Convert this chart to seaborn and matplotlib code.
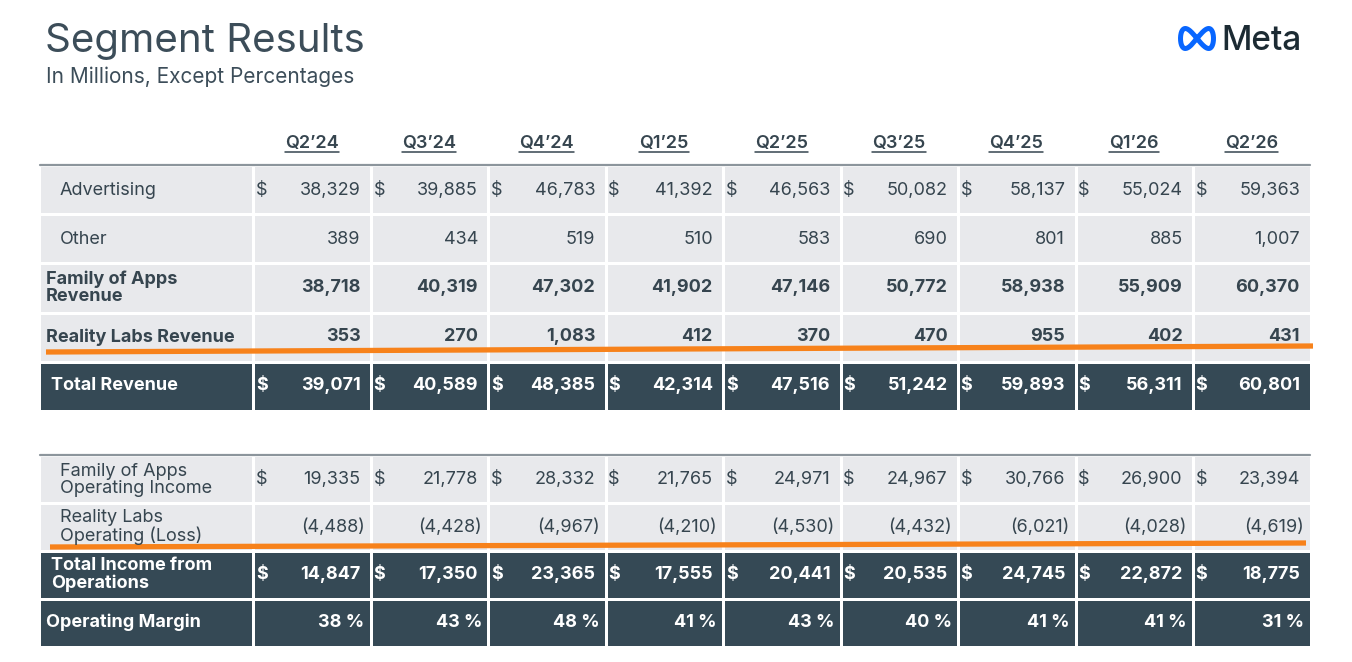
import numpy as np
import matplotlib.pyplot as plt
from matplotlib.colors import ListedColormap
import seaborn as sns

# Data (USD millions)
quarters = ["Q2’24", "Q3’24", "Q4’24", "Q1’25", "Q2’25", "Q3’25", "Q4’25", "Q1’26", "Q2’26"]
advertising = [38329, 39885, 46783, 41392, 46563, 50082, 58137, 55024, 59363]
other = [389, 434, 519, 510, 583, 690, 801, 885, 1007]
foa_revenue = [38718, 40319, 47302, 41902, 47146, 50772, 58938, 55909, 60370]
rl_revenue = [353, 270, 1083, 412, 370, 470, 955, 402, 431]
total_revenue = [39071, 40589, 48385, 42314, 47516, 51242, 59893, 56311, 60801]
foa_income = [19335, 21778, 28332, 21765, 24971, 24967, 30766, 26900, 23394]
rl_income = [-4488, -4428, -4967, -4210, -4530, -4432, -6021, -4028, -4619]
total_income = [14847, 17350, 23365, 17555, 20441, 20535, 24745, 22872, 18775]
op_margin = [38, 43, 48, 41, 43, 40, 41, 41, 31]

revenue_labels = ["Advertising", "Other", "Family of Apps\nRevenue", "Reality Labs Revenue", "Total Revenue"]
income_labels = ["Family of Apps\nOperating Income", "Reality Labs\nOperating (Loss)",
                 "Total Income from\nOperations", "Operating Margin"]

# colours
LIGHT = "#E8E9EC"
DARK = "#354955"
TEXT = "#36454F"
TITLE = "#3C4D59"
ORANGE = "#F7821B"
BORDER = "#8C959C"

sns.set_theme(style="white")
plt.rcParams["font.family"] = ["Inter", "DejaVu Sans"]

W, H = 1352, 662
fig = plt.figure(figsize=(W / 100, H / 100), dpi=100)

tab_left, lab_right, tab_right = 40, 253, 1310
col_edges = np.linspace(lab_right, tab_right, len(quarters) + 1)


def draw_cells(kinds, y0, y1):
    kinds = np.array(kinds)[:, None]
    cmap = ListedColormap([LIGHT, DARK])
    # outer edges pushed out by 1px so the white grid only shows between cells
    parts = [(tab_left - 1, lab_right, kinds),
             (lab_right, tab_right + 1, np.repeat(kinds, len(quarters), axis=1))]
    for x0, x1, grid in parts:
        axc = fig.add_axes([x0 / W, 1 - (y1 + 1) / H, (x1 - x0) / W, (y1 - y0 + 2) / H])
        sns.heatmap(grid, ax=axc, cmap=cmap, vmin=0, vmax=1, cbar=False,
                    linewidths=0.9, linecolor="white",
                    xticklabels=False, yticklabels=False)
        axc.axis("off")


# cell backgrounds (0 = light, 1 = dark)
t1_top, t1_bot = 166, 410
t2_top, t2_bot = 456, 646
draw_cells([0, 0, 0, 0, 1], t1_top, t1_bot)
draw_cells([0, 0, 1, 1], t2_top, t2_bot)

# overlay for text and lines, in pixel coordinates
ax = fig.add_axes([0, 0, 1, 1])
ax.set_xlim(0, W)
ax.set_ylim(H, 0)
ax.axis("off")
ax.set_zorder(5)

# title block
ax.text(45, 52, "Segment Results", fontsize=29, color=TITLE, fontweight="normal", va="baseline")
ax.text(46, 83, "In Millions, Except Percentages", fontsize=15, color=TITLE, va="baseline")

# Meta logo
t = np.linspace(0, 2 * np.pi, 200)
ax.plot(1197 + 16.5 * np.sin(t), 38.5 + 10 * np.sin(2 * t), color="#0866FF", lw=3.6, solid_capstyle="round")
ax.text(1221, 50, "Meta", fontsize=24, color="#1C2B33", fontweight="medium", va="baseline")

# column headers
fs = 13
header_texts = []
for i, q in enumerate(quarters):
    cx = (col_edges[i] + col_edges[i + 1]) / 2
    header_texts.append(ax.text(cx, 148, q, fontsize=fs, color=TEXT, fontweight="semibold",
                                ha="center", va="baseline"))

# top borders
ax.plot([tab_left, tab_right], [165, 165], color=BORDER, lw=1.6)
ax.plot([tab_left, tab_right], [455, 455], color=BORDER, lw=1.6)


def fmt(v, pct=False):
    if pct:
        return f"{v} %"
    if v < 0:
        return f"({-v:,})"
    return f"{v:,}"


def draw_rows(labels, series, styles, y0, y1):
    rh = (y1 - y0) / len(labels)
    for r, (lab, vals, st) in enumerate(zip(labels, series, styles)):
        lx, bold, dark, dollar, pct = st
        yc = y0 + (r + 0.5) * rh
        col = "white" if dark else TEXT
        wt = "bold" if bold else "normal"
        ax.text(lx, yc, lab, fontsize=fs, color=col, fontweight=wt, va="center",
                linespacing=1.0)
        for i, v in enumerate(vals):
            x0, x1 = col_edges[i], col_edges[i + 1]
            if dollar:
                ax.text(x0 + 3, yc, "$", fontsize=fs, color=col, fontweight=wt, va="center")
            off = 6 if (v < 0 or pct) else 10
            ax.text(x1 - off, yc, fmt(v, pct), fontsize=fs, color=col, fontweight=wt,
                    ha="right", va="center")


# (label x, bold, dark row, dollar sign, percent)
rev_styles = [(60, False, False, True, False),
              (60, False, False, False, False),
              (46, True, False, False, False),
              (46, True, False, False, False),
              (51, True, True, True, False)]
inc_styles = [(60, False, False, True, False),
              (60, False, False, False, False),
              (51, True, True, True, False),
              (46, True, True, False, True)]

draw_rows(revenue_labels, [advertising, other, foa_revenue, rl_revenue, total_revenue],
          rev_styles, t1_top, t1_bot)
draw_rows(income_labels, [foa_income, rl_income, total_income, op_margin],
          inc_styles, t2_top, t2_bot)

# orange highlight strokes
ax.plot([46, 1313], [352, 346], color=ORANGE, lw=3.8, solid_capstyle="butt")
ax.plot([50, 1306], [547, 543], color=ORANGE, lw=3.8, solid_capstyle="butt")

# underline the headers
fig.canvas.draw()
inv = ax.transData.inverted()
for ht in header_texts:
    bb = ht.get_window_extent()
    (xa, _), (xb, _) = inv.transform([[bb.x0, 0], [bb.x1, 0]])
    ax.plot([xa, xb], [152, 152], color=TEXT, lw=1.1)

fig.savefig("out.png", dpi=100)
